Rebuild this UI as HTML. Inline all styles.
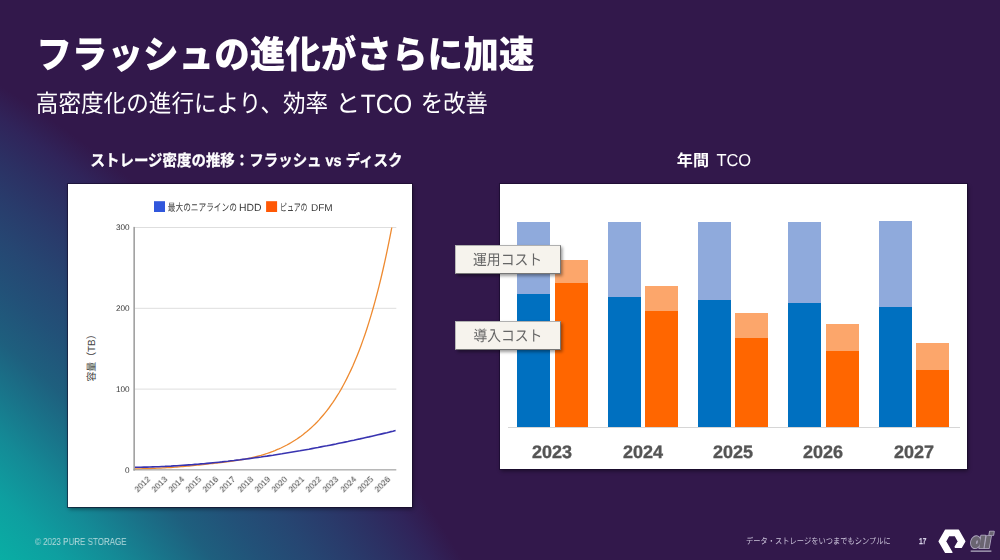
<!DOCTYPE html>
<html lang="ja"><head><meta charset="utf-8"><title>フラッシュの進化がさらに加速</title>
<style>
html,body{margin:0;padding:0}
body{width:1000px;height:560px;overflow:hidden;position:relative;background:#32184b;font-family:"Liberation Sans",sans-serif;text-rendering:geometricPrecision}
#bg{position:absolute;left:0;top:0;width:1000px;height:560px;
 background:radial-gradient(circle 1436px at -769px 1298px, #09aea4 0%, #09aea4 74.23%, #0e9fa0 77.37%, #148a96 80.36%, #19748a 82.94%, #1e5f7e 85.51%, #225178 88.37%, #264672 91.15%, #293b6b 93.59%, #2c3063 95.82%, #30245a 98.05%, #32184b 100.00%);}
.panel{position:absolute;background:#fff;box-shadow:0 0 0 1px rgba(20,10,40,.55),1px 2px 4px rgba(0,0,0,.45)}
.abs{position:absolute}
.t{position:absolute;white-space:nowrap;line-height:1}
.bar{position:absolute}
.lbl{position:absolute;background:#f6f3ed;border:1px solid;border-color:#b0b0b0 #777 #777 #b8b8b8;box-sizing:border-box;box-shadow:1.5px 2px 3px rgba(0,0,0,.4)}
.yr{position:absolute;font-weight:bold;font-size:18px;color:#555;-webkit-text-stroke:.35px #555;line-height:1;white-space:nowrap;transform:translateX(-50%)}
.ax{position:absolute;font-size:8.2px;color:#3a3a3a;line-height:1;white-space:nowrap}
.t,.ax,.yr{will-change:transform}
svg text{font-family:"Liberation Sans","Noto Sans CJK JP",sans-serif}
</style></head><body>
<div id="bg"></div>

<div class="panel" style="left:68px;top:184px;width:344.2px;height:322.8px"></div>
<div class="panel" style="left:500px;top:184px;width:467px;height:285px"></div>
<svg class="abs" style="left:0;top:0" width="1000" height="560" viewBox="0 0 1000 560">
<rect x="134.8" y="388.6" width="261.5" height="1" fill="#dedede"/>
<rect x="134.8" y="307.8" width="261.5" height="1" fill="#dedede"/>
<rect x="134.8" y="227.0" width="261.5" height="1" fill="#dedede"/>
<rect x="154" y="201.2" width="11" height="10.8" fill="#3157dc"/>
<rect x="266.1" y="201.2" width="11" height="10.8" fill="#ff5805"/>
<path d="M134.9 469.0 L136.9 468.9 L138.9 468.9 L140.9 468.8 L142.9 468.7 L144.9 468.7 L146.9 468.6 L148.9 468.6 L150.9 468.5 L152.9 468.4 L154.9 468.3 L156.9 468.2 L158.9 468.1 L160.9 468.1 L162.9 467.9 L164.9 467.8 L166.9 467.7 L168.9 467.6 L170.9 467.5 L172.9 467.3 L174.9 467.2 L176.9 467.0 L178.9 466.9 L180.9 466.7 L182.9 466.5 L184.9 466.4 L186.9 466.2 L188.9 466.0 L190.9 465.8 L192.9 465.6 L194.9 465.4 L196.9 465.2 L198.9 465.0 L200.9 464.8 L202.9 464.6 L204.9 464.3 L206.9 464.1 L208.9 463.9 L210.9 463.7 L212.9 463.5 L214.9 463.2 L216.9 463.0 L218.9 462.8 L220.9 462.5 L222.9 462.3 L224.9 462.1 L226.9 461.8 L228.9 461.5 L230.9 461.3 L232.9 461.0 L234.9 460.7 L236.9 460.4 L238.9 460.1 L240.9 459.8 L242.9 459.4 L244.9 459.1 L246.9 458.7 L248.9 458.3 L250.9 457.9 L252.9 457.4 L254.9 456.9 L256.9 456.4 L258.9 455.9 L260.9 455.4 L262.9 454.8 L264.9 454.2 L266.9 453.5 L268.9 452.8 L270.9 452.1 L272.9 451.4 L274.9 450.6 L276.9 449.7 L278.9 448.9 L280.9 448.0 L282.9 447.0 L284.9 446.0 L286.9 445.0 L288.9 443.9 L290.9 442.7 L292.9 441.5 L294.9 440.3 L296.9 439.0 L298.9 437.6 L300.9 436.2 L302.9 434.7 L304.9 433.1 L306.9 431.5 L308.9 429.8 L310.9 428.0 L312.9 426.1 L314.9 424.2 L316.9 422.2 L318.9 420.1 L320.9 417.8 L322.9 415.5 L324.9 413.1 L326.9 410.6 L328.9 408.0 L330.9 405.2 L332.9 402.4 L334.9 399.4 L336.9 396.2 L338.9 393.0 L340.9 389.6 L342.9 386.0 L344.9 382.3 L346.9 378.4 L348.9 374.3 L350.9 370.1 L352.9 365.7 L354.9 361.0 L356.9 356.2 L358.9 351.2 L360.9 345.9 L362.9 340.4 L364.9 334.7 L366.9 328.7 L368.9 322.4 L370.9 315.9 L372.9 309.0 L374.9 301.9 L376.9 294.4 L378.9 286.7 L380.9 278.5 L382.9 270.0 L384.9 261.2 L386.9 251.9 L388.9 242.2 L390.9 232.1 L391.8 227.5" fill="none" stroke="#ee8a30" stroke-width="1.3" stroke-linejoin="round"/>
<path d="M134.9 467.2 L137.9 467.2 L140.9 467.2 L143.9 467.1 L146.9 467.1 L149.9 467.0 L152.9 466.9 L155.9 466.8 L158.9 466.7 L161.9 466.5 L164.9 466.4 L167.9 466.2 L170.9 466.1 L173.9 465.9 L176.9 465.7 L179.9 465.5 L182.9 465.3 L185.9 465.1 L188.9 464.9 L191.9 464.7 L194.9 464.4 L197.9 464.2 L200.9 463.9 L203.9 463.7 L206.9 463.4 L209.9 463.1 L212.9 462.8 L215.9 462.5 L218.9 462.2 L221.9 461.9 L224.9 461.5 L227.9 461.2 L230.9 460.8 L233.9 460.5 L236.9 460.1 L239.9 459.8 L242.9 459.4 L245.9 459.0 L248.9 458.6 L251.9 458.2 L254.9 457.8 L257.9 457.4 L260.9 457.0 L263.9 456.5 L266.9 456.1 L269.9 455.6 L272.9 455.2 L275.9 454.7 L278.9 454.2 L281.9 453.8 L284.9 453.3 L287.9 452.8 L290.9 452.3 L293.9 451.8 L296.9 451.3 L299.9 450.8 L302.9 450.2 L305.9 449.7 L308.9 449.2 L311.9 448.6 L314.9 448.0 L317.9 447.5 L320.9 446.9 L323.9 446.3 L326.9 445.8 L329.9 445.2 L332.9 444.6 L335.9 444.0 L338.9 443.3 L341.9 442.7 L344.9 442.1 L347.9 441.5 L350.9 440.8 L353.9 440.2 L356.9 439.5 L359.9 438.9 L362.9 438.2 L365.9 437.5 L368.9 436.9 L371.9 436.2 L374.9 435.5 L377.9 434.8 L380.9 434.1 L383.9 433.4 L386.9 432.7 L389.9 431.9 L392.9 431.2 L395.6 430.5" fill="none" stroke="#3833b0" stroke-width="1.6" stroke-linejoin="round"/>
<rect x="133.4" y="226.9" width="1.5" height="243.7" fill="#9a9a9a"/>
<rect x="133.4" y="469.3" width="262.9" height="1.1" fill="#9a9a9a"/>
<g transform="translate(95.3 381.6) rotate(-90)"><text x="0" y="0" font-size="10.3" fill="#444" textLength="52.2" lengthAdjust="spacingAndGlyphs">容量（TB）</text></g>
</svg>
<div class="ax" style="left:239.3px;top:203.9px;font-size:10.4px">HDD</div>
<div class="ax" style="left:311.2px;top:204.1px;font-size:10px">DFM</div>
<div class="ax" style="right:870.5px;top:467.3px">0</div>
<div class="ax" style="right:870.5px;top:385.7px">100</div>
<div class="ax" style="right:870.5px;top:304.9px">200</div>
<div class="ax" style="right:870.5px;top:224.1px">300</div>
<div class="ax" style="left:142.6px;top:485.2px;transform:translate(-50%,-50%) rotate(-45deg)">2012</div>
<div class="ax" style="left:159.8px;top:485.2px;transform:translate(-50%,-50%) rotate(-45deg)">2013</div>
<div class="ax" style="left:176.9px;top:485.2px;transform:translate(-50%,-50%) rotate(-45deg)">2014</div>
<div class="ax" style="left:194.1px;top:485.2px;transform:translate(-50%,-50%) rotate(-45deg)">2015</div>
<div class="ax" style="left:211.2px;top:485.2px;transform:translate(-50%,-50%) rotate(-45deg)">2016</div>
<div class="ax" style="left:228.4px;top:485.2px;transform:translate(-50%,-50%) rotate(-45deg)">2017</div>
<div class="ax" style="left:245.6px;top:485.2px;transform:translate(-50%,-50%) rotate(-45deg)">2018</div>
<div class="ax" style="left:262.7px;top:485.2px;transform:translate(-50%,-50%) rotate(-45deg)">2019</div>
<div class="ax" style="left:279.9px;top:485.2px;transform:translate(-50%,-50%) rotate(-45deg)">2020</div>
<div class="ax" style="left:297.0px;top:485.2px;transform:translate(-50%,-50%) rotate(-45deg)">2021</div>
<div class="ax" style="left:314.2px;top:485.2px;transform:translate(-50%,-50%) rotate(-45deg)">2022</div>
<div class="ax" style="left:331.4px;top:485.2px;transform:translate(-50%,-50%) rotate(-45deg)">2023</div>
<div class="ax" style="left:348.5px;top:485.2px;transform:translate(-50%,-50%) rotate(-45deg)">2024</div>
<div class="ax" style="left:365.7px;top:485.2px;transform:translate(-50%,-50%) rotate(-45deg)">2025</div>
<div class="ax" style="left:382.8px;top:485.2px;transform:translate(-50%,-50%) rotate(-45deg)">2026</div>
<div class="abs" style="left:508px;top:426.8px;width:451.5px;height:1px;background:#d6d6d6"></div>
<div class="bar" style="left:517.2px;top:221.5px;width:33.3px;height:72.8px;background:#8faadc"></div>
<div class="bar" style="left:517.2px;top:294.3px;width:33.3px;height:132.5px;background:#0070c0"></div>
<div class="bar" style="left:554.5px;top:260.1px;width:33.3px;height:23.1px;background:#fca66b"></div>
<div class="bar" style="left:554.5px;top:283.2px;width:33.3px;height:143.6px;background:#ff6600"></div>
<div class="yr" style="left:552.4px;top:443.4px">2023</div>
<div class="bar" style="left:607.6px;top:221.5px;width:33.3px;height:75.6px;background:#8faadc"></div>
<div class="bar" style="left:607.6px;top:297.1px;width:33.3px;height:129.7px;background:#0070c0"></div>
<div class="bar" style="left:644.9px;top:286.4px;width:33.3px;height:24.3px;background:#fca66b"></div>
<div class="bar" style="left:644.9px;top:310.7px;width:33.3px;height:116.1px;background:#ff6600"></div>
<div class="yr" style="left:642.8px;top:443.4px">2024</div>
<div class="bar" style="left:697.9px;top:221.5px;width:33.3px;height:78.9px;background:#8faadc"></div>
<div class="bar" style="left:697.9px;top:300.4px;width:33.3px;height:126.4px;background:#0070c0"></div>
<div class="bar" style="left:735.2px;top:313.2px;width:33.3px;height:25.2px;background:#fca66b"></div>
<div class="bar" style="left:735.2px;top:338.4px;width:33.3px;height:88.4px;background:#ff6600"></div>
<div class="yr" style="left:733.1px;top:443.4px">2025</div>
<div class="bar" style="left:788.2px;top:221.5px;width:33.3px;height:81.8px;background:#8faadc"></div>
<div class="bar" style="left:788.2px;top:303.3px;width:33.3px;height:123.5px;background:#0070c0"></div>
<div class="bar" style="left:825.5px;top:324.3px;width:33.3px;height:26.7px;background:#fca66b"></div>
<div class="bar" style="left:825.5px;top:351.0px;width:33.3px;height:75.8px;background:#ff6600"></div>
<div class="yr" style="left:823.4px;top:443.4px">2026</div>
<div class="bar" style="left:878.6px;top:220.7px;width:33.3px;height:86.3px;background:#8faadc"></div>
<div class="bar" style="left:878.6px;top:307.0px;width:33.3px;height:119.8px;background:#0070c0"></div>
<div class="bar" style="left:915.9px;top:343.2px;width:33.3px;height:27.1px;background:#fca66b"></div>
<div class="bar" style="left:915.9px;top:370.3px;width:33.3px;height:56.5px;background:#ff6600"></div>
<div class="yr" style="left:913.8px;top:443.4px">2027</div>
<div class="lbl" style="left:454.8px;top:245px;width:106.3px;height:29.2px"></div>
<div class="lbl" style="left:454.8px;top:320.8px;width:106.3px;height:29.2px"></div>
<div class="t" style="left:34.5px;top:537.9px;font-size:10.2px;color:#b4dadc;transform-origin:0 0;transform:scaleX(.786)">© 2023 PURE STORAGE</div>
<div class="t" style="left:918.6px;top:537.3px;font-size:8.7px;color:#d6d0e6;font-weight:bold;-webkit-text-stroke:.25px #d6d0e6;transform-origin:0 0;transform:scaleX(.76)">17</div>
<svg class="abs" style="left:0;top:0" width="1000" height="560" viewBox="0 0 1000 560">
<path d="M945.56 552.39 L939.16 541.30 L945.56 530.21 L958.36 530.21 L964.76 541.30 L961.30 547.30 L955.46 547.30 L955.21 546.93 L958.46 541.30 L955.21 535.67 L948.71 535.67 L945.46 541.30 L951.86 552.39 Z" fill="#fff" stroke="#fff" stroke-width="1.4" stroke-linejoin="round"/>
<g fill="#b3abc4" stroke="#b3abc4" stroke-width="1.7" stroke-linejoin="round"><ellipse cx="975.7" cy="542.2" rx="4.7" ry="6.1" transform="rotate(16 975.7 542.2)"/><path d="M981.2 535.6H985.4L983.5 548.2H979.3Z"/><path d="M986.6 536.1H991L988.9 548.2H984.5Z"/><path d="M989.9 531.5H993.9L993.3 535H989.3Z"/></g>
<g fill="#6a6571"><ellipse cx="975.7" cy="542.2" rx="4.7" ry="6.1" transform="rotate(16 975.7 542.2)"/><path d="M981.2 535.6H985.4L983.5 548.2H979.3Z"/><path d="M986.6 536.1H991L988.9 548.2H984.5Z"/><path d="M989.9 531.5H993.9L993.3 535H989.3Z"/></g>
<ellipse cx="976.9" cy="542.2" rx=".9" ry="1.9" transform="rotate(16 976.9 542.2)" fill="#a9a1ba"/>
<rect x="970.7" y="550.4" width="20.7" height="1.5" fill="#9f97b0"/>
<text x="36.3" y="68.3" font-size="38" font-weight="900" fill="#ffffff" textLength="498" lengthAdjust="spacingAndGlyphs">フラッシュの進化がさらに加速</text>
<text x="35.8" y="112" font-size="24.5" fill="#ffffff" textLength="292.4" lengthAdjust="spacingAndGlyphs">高密度化の進行により、効率</text>
<text x="335.5" y="112" font-size="24.5" fill="#ffffff">と</text>
<text x="360.8" y="112.8" font-size="26.5" fill="#ffffff" textLength="51.4" lengthAdjust="spacingAndGlyphs">TCO</text>
<text x="420.8" y="112" font-size="24.5" fill="#ffffff" textLength="67.2" lengthAdjust="spacingAndGlyphs">を改善</text>
<text x="90.5" y="165.8" font-size="16" font-weight="bold" fill="#ffffff" stroke="#ffffff" stroke-width="0.3" textLength="312" lengthAdjust="spacingAndGlyphs">ストレージ密度の推移：フラッシュ vs ディスク</text>
<text x="676.8" y="165.8" font-size="16" font-weight="bold" fill="#ffffff" textLength="32.2" lengthAdjust="spacingAndGlyphs">年間</text>
<text x="716.4" y="166.4" font-size="17.3" fill="#ffffff" textLength="34.8" lengthAdjust="spacingAndGlyphs">TCO</text>
<text x="167.8" y="210.5" font-size="10.3" fill="#444444" textLength="69" lengthAdjust="spacingAndGlyphs">最大のニアラインの</text>
<text x="280" y="210.5" font-size="10.3" fill="#444444" textLength="27.5" lengthAdjust="spacingAndGlyphs">ピュアの</text>
<text x="473" y="265.2" font-size="15" fill="#666666" textLength="69.2" lengthAdjust="spacingAndGlyphs">運用コスト</text>
<text x="473.4" y="341" font-size="15" fill="#666666" textLength="68.8" lengthAdjust="spacingAndGlyphs">導入コスト</text>
<text x="746" y="544.3" font-size="8.5" fill="#cbc4da" textLength="144.8" lengthAdjust="spacingAndGlyphs">データ・ストレージをいつまでもシンプルに</text>
</svg>
</body></html>
